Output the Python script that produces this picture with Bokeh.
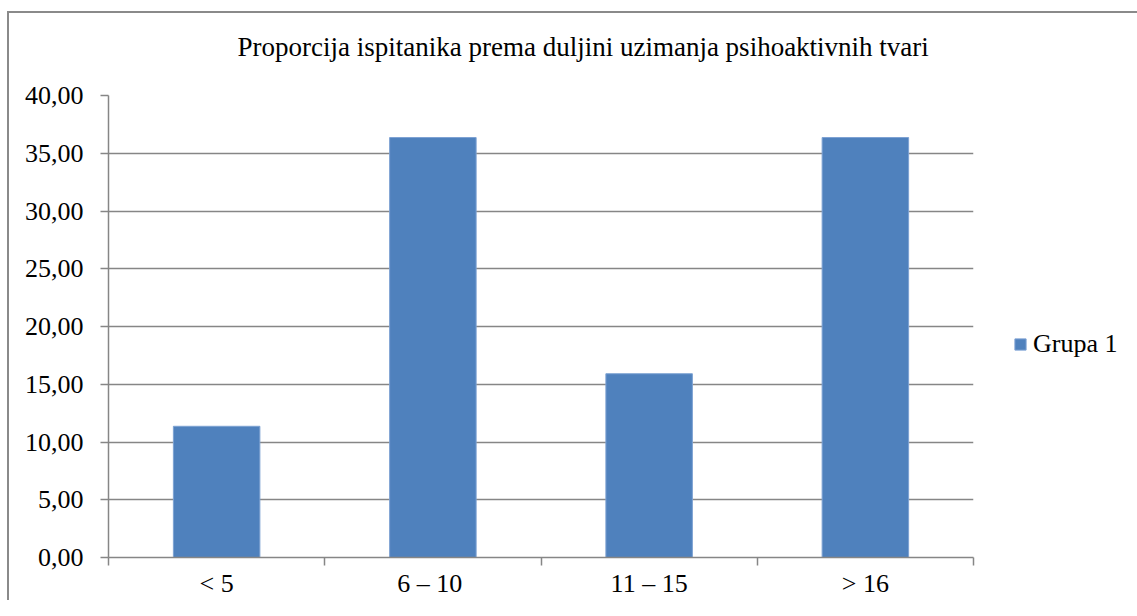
from bokeh.plotting import figure
from bokeh.models import (Range1d, FixedTicker, CustomJSTickFormatter, Legend, LegendItem,
                          ColumnDataSource, Title)
from bokeh.embed import file_html
from bokeh.resources import INLINE

categories = ["< 5", "6  – 10", "11 – 15", "> 16"]
values = [11.36, 36.36, 15.91, 36.36]
series_name = "Grupa 1"
title_text = "Proporcija ispitanika prema duljini uzimanja psihoaktivnih tvari"
y_ticks = [0, 5, 10, 15, 20, 25, 30, 35, 40]

FONT = "'Liberation Serif', serif"
GRAY = "#868686"
BLUE = "#4F81BD"

xs = [i + 0.5 for i in range(len(categories))]
src = ColumnDataSource(dict(x=xs, top=values, cat=categories))

p = figure(width=1126, height=598, output_backend="svg", toolbar_location=None,
           x_range=Range1d(0, len(categories)), y_range=Range1d(0, 40),
           frame_width=865, frame_height=462,
           min_border_left=99, min_border_top=82, min_border_right=10, min_border_bottom=10)
p.styles = {"margin-top": "11px", "margin-left": "7px",
            "border-top": "2px solid #8a8a8a", "border-left": "2px solid #8a8a8a"}

p.title.text = title_text
p.title.text_font = FONT
p.title.text_font_size = "27px"
p.title.text_font_style = "normal"
p.title.text_color = "black"
p.title.align = "left"
p.title.offset = 129
p.title.standoff = 10

# thin spacer between title and plot area
p.add_layout(Title(text=" ", text_font_size="1px", standoff=26), "above")

r = p.vbar(x="x", top="top", width=0.4, source=src, fill_color=BLUE, line_color="#7DA2D3", line_width=1)

p.outline_line_color = None
p.background_fill_color = "white"
p.border_fill_color = "white"

# x axis
xa = p.xaxis[0]
xa.ticker = FixedTicker(ticks=xs, minor_ticks=list(range(len(categories) + 1)))
xa.major_label_overrides = {x: c for x, c in zip(xs, categories)}
xa.major_tick_out = 0
xa.major_tick_in = 0
xa.minor_tick_out = 8
xa.minor_tick_in = 0
xa.minor_tick_line_color = GRAY
xa.minor_tick_line_width = 1.5
xa.axis_line_color = GRAY
xa.axis_line_width = 1.5
xa.major_label_text_font = FONT
xa.major_label_text_font_size = "26px"
xa.major_label_text_color = "black"
xa.major_label_standoff = 3

# y axis
ya = p.yaxis[0]
ya.ticker = FixedTicker(ticks=y_ticks)
ya.formatter = CustomJSTickFormatter(code="return tick.toFixed(2).replace('.', ',');")
ya.major_tick_out = 8
ya.major_tick_in = 0
ya.minor_tick_out = 0
ya.minor_tick_in = 0
ya.major_tick_line_color = GRAY
ya.major_tick_line_width = 1.5
ya.axis_line_color = GRAY
ya.axis_line_width = 1.5
ya.major_label_text_font = FONT
ya.major_label_text_font_size = "26px"
ya.major_label_text_color = "black"
ya.major_label_standoff = 17

p.xgrid.visible = False
p.ygrid.grid_line_color = GRAY
p.ygrid.grid_line_width = 1.5
p.ygrid.ticker = FixedTicker(ticks=y_ticks)

legend = Legend(items=[LegendItem(label=series_name, renderers=[r])],
                location=(40, 198), glyph_width=14, glyph_height=14, label_standoff=6,
                label_text_font=FONT, label_text_font_size="26px", label_text_color="black",
                border_line_color=None, background_fill_alpha=0, padding=6, margin=0)
p.add_layout(legend, "right")

open("out.html", "w").write(file_html(p, INLINE))
